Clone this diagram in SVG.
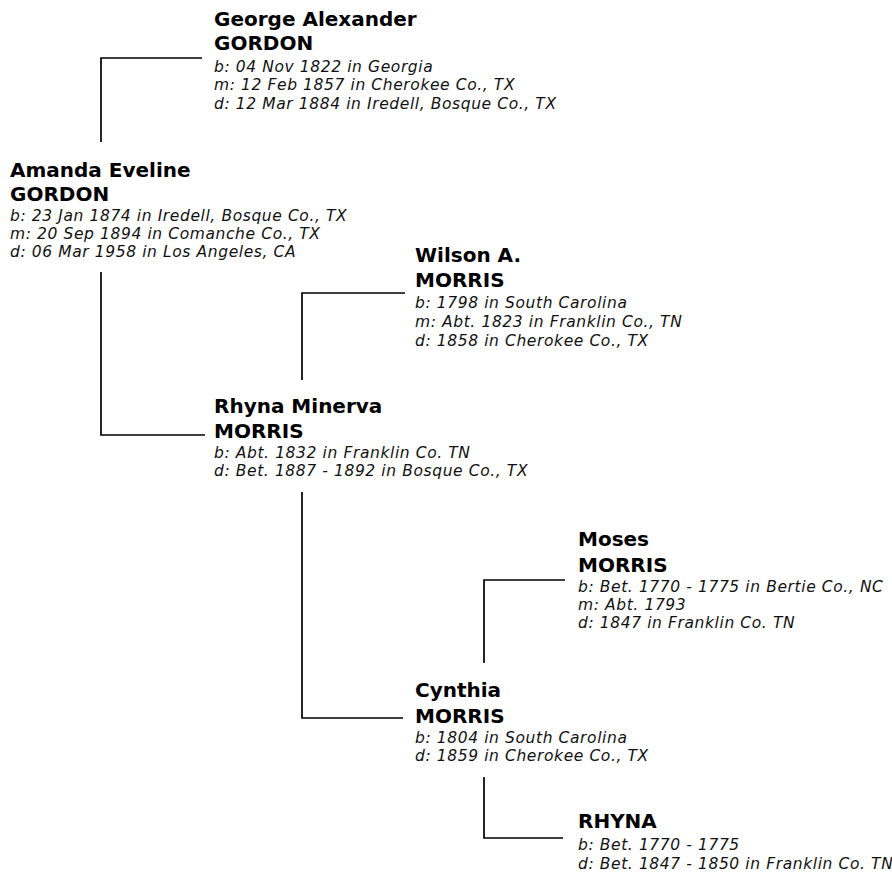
<svg xmlns="http://www.w3.org/2000/svg" width="892" height="873" viewBox="0 0 892 873">
<style>
.n{font-family:"DejaVu Sans",Verdana,sans-serif;font-weight:bold;font-size:20px;fill:#000}
.d{font-family:"DejaVu Sans",Verdana,sans-serif;font-style:italic;font-size:15.5px;letter-spacing:0.6px;fill:#111}
.c{fill:none;stroke:#000;stroke-width:1.7}
</style>
<rect width="892" height="873" fill="#fff"/>
<g id="connectors">
<path class="c" d="M202,58 H101 V142"/>
<path class="c" d="M101,272 V435 H205"/>
<path class="c" d="M405,293 H302 V380"/>
<path class="c" d="M302,492 V718 H403"/>
<path class="c" d="M565,580 H484 V663"/>
<path class="c" d="M484,777 V838 H563"/>
</g>
<g id="george">
<text class="n" x="214" y="26">George Alexander</text>
<text class="n" x="214" y="50">GORDON</text>
<text class="d" x="214" y="72">b: 04 Nov 1822 in Georgia</text>
<text class="d" x="214" y="90">m: 12 Feb 1857 in Cherokee Co., TX</text>
<text class="d" x="214" y="109">d: 12 Mar 1884 in Iredell, Bosque Co., TX</text>
</g>
<g id="amanda">
<text class="n" x="10" y="177">Amanda Eveline</text>
<text class="n" x="10" y="201">GORDON</text>
<text class="d" x="10" y="221">b: 23 Jan 1874 in Iredell, Bosque Co., TX</text>
<text class="d" x="10" y="239">m: 20 Sep 1894 in Comanche Co., TX</text>
<text class="d" x="10" y="257">d: 06 Mar 1958 in Los Angeles, CA</text>
</g>
<g id="wilson">
<text class="n" x="415" y="262">Wilson A.</text>
<text class="n" x="415" y="287">MORRIS</text>
<text class="d" x="415" y="308">b: 1798 in South Carolina</text>
<text class="d" x="415" y="327">m: Abt. 1823 in Franklin Co., TN</text>
<text class="d" x="415" y="346">d: 1858 in Cherokee Co., TX</text>
</g>
<g id="rhyna-minerva">
<text class="n" x="214" y="413">Rhyna Minerva</text>
<text class="n" x="214" y="438">MORRIS</text>
<text class="d" x="214" y="458">b: Abt. 1832 in Franklin Co. TN</text>
<text class="d" x="214" y="476">d: Bet. 1887 - 1892 in Bosque Co., TX</text>
</g>
<g id="moses">
<text class="n" x="578" y="546">Moses</text>
<text class="n" x="578" y="572">MORRIS</text>
<text class="d" x="578" y="592">b: Bet. 1770 - 1775 in Bertie Co., NC</text>
<text class="d" x="578" y="610">m: Abt. 1793</text>
<text class="d" x="578" y="628">d: 1847 in Franklin Co. TN</text>
</g>
<g id="cynthia">
<text class="n" x="415" y="697">Cynthia</text>
<text class="n" x="415" y="723">MORRIS</text>
<text class="d" x="415" y="743">b: 1804 in South Carolina</text>
<text class="d" x="415" y="761">d: 1859 in Cherokee Co., TX</text>
</g>
<g id="rhyna">
<text class="n" x="578" y="828">RHYNA</text>
<text class="d" x="578" y="850">b: Bet. 1770 - 1775</text>
<text class="d" x="578" y="869">d: Bet. 1847 - 1850 in Franklin Co. TN</text>
</g>
</svg>
